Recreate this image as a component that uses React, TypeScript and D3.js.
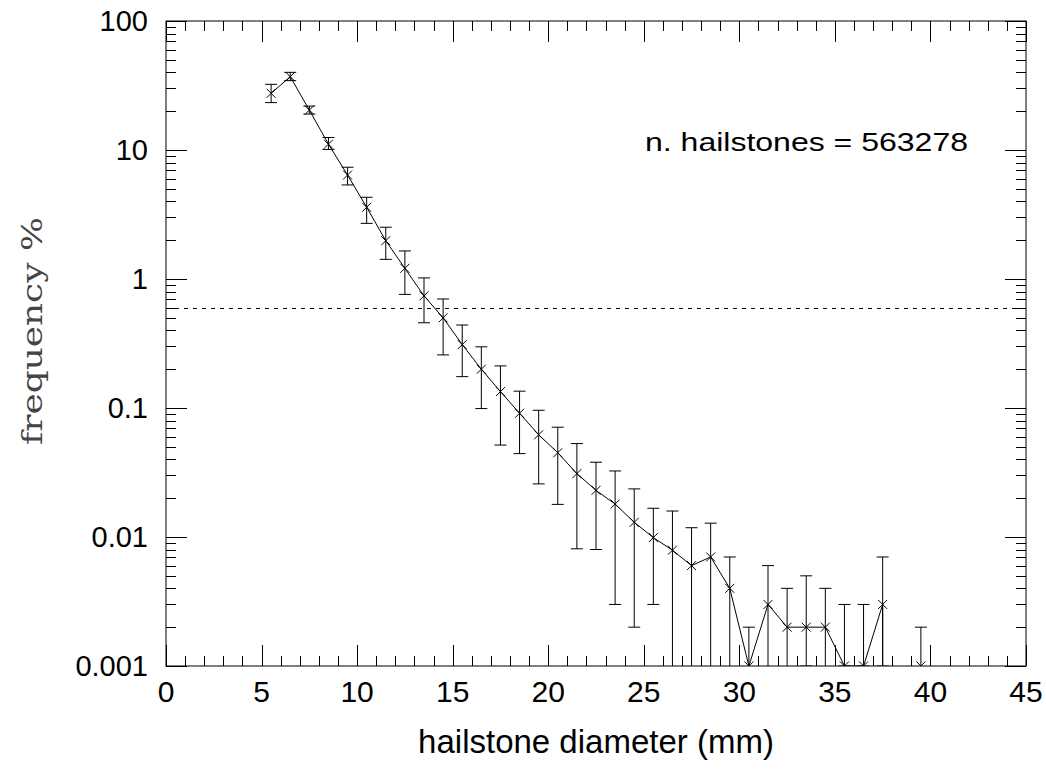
import React from "react";
import * as d3 from "d3";

const diameters = [5.5, 6.5, 7.5, 8.5, 9.5, 10.5, 11.5, 12.5, 13.5, 14.5, 15.5, 16.5, 17.5, 18.5, 19.5, 20.5, 21.5, 22.5, 23.5, 24.5, 25.5, 26.5, 27.5, 28.5, 29.5, 30.5, 31.5, 32.5, 33.5, 34.5, 35.5, 36.5, 37.5, 38.5, 39.5];
const frequency = [27.5, 37, 20.4, 11.1, 6.4, 3.6, 1.98, 1.21, 0.74, 0.5, 0.31, 0.2, 0.134, 0.091, 0.062, 0.045, 0.031, 0.023, 0.018, 0.013, 0.0099, 0.0079, 0.006, 0.007, 0.004, 0.001, 0.003, 0.002, 0.002, 0.002, 0.001, 0.001, 0.003, 0, 0.001];
const upperErr = [32.3, 40, 21.9, 12.5, 7.35, 4.3, 2.52, 1.65, 1.02, 0.70, 0.44, 0.298, 0.212, 0.135, 0.096, 0.071, 0.053, 0.038, 0.0325, 0.0236, 0.0167, 0.0159, 0.0118, 0.0128, 0.007, 0.002, 0.006, 0.004, 0.005, 0.004, 0.003, 0.003, 0.007, 0, 0.002];
const lowerErr = [23.3, 34.5, 19.0, 10.1, 5.36, 2.7, 1.42, 0.76, 0.458, 0.258, 0.175, 0.099, 0.0516, 0.0443, 0.0258, 0.0179, 0.0081, 0.008, 0.003, 0.002, 0.003, 0, 0, 0, 0, 0, 0, 0, 0.001, 0, 0.001, 0.001, 0.001, 0, 0];
const xTickLabels = ["0", "5", "10", "15", "20", "25", "30", "35", "40", "45"];
const yTickLabels = ["100", "10", "1", "0.1", "0.01", "0.001"];
const thresholdValue = 0.6;
const annotation = "n. hailstones = 563278";
const xTitle = "hailstone diameter (mm)";
const yTitle = "frequency %";

export default function App() {
  const W = 1046, H = 769;
  const L = 166, R = 1026, T = 21, B = 666;
  const x = d3.scaleLinear().domain([0, 45]).range([L, R]);
  const y = d3.scaleLog().domain([0.001, 100]).range([B, T]);
  const yv = (v: number) => (v > 0 ? y(v) : B + 100000);

  const xMinor = d3.range(0, 46, 1);
  const yMinor: number[] = [];
  for (let e = -3; e < 2; e++) for (let k = 2; k <= 9; k++) yMinor.push(k * Math.pow(10, e));
  const yMajor = yTickLabels.map(Number);

  const line = d3.line<number>().x((_, i) => x(diameters[i])).y((v) => yv(v));
  const pathD = line(frequency) || "";

  const majLen = 21, minLen = 10, cap = 6, mk = 4.5;
  const font = "'Liberation Sans', Arial, Helvetica, sans-serif";

  return (
    <div style={{ position: "absolute", left: 0, top: 0 }}>
      <svg width={W} height={H} style={{ display: "block", background: "#fff" }}>
        <defs>
          <clipPath id="plotclip">
            <rect x={L} y={T} width={R - L} height={B - T} />
          </clipPath>
        </defs>
        <g stroke="#000" strokeWidth={1} fill="none">
          <rect x={L} y={T} width={R - L} height={B - T} />
          {xMinor.map((t) => {
            const len = t % 5 === 0 ? majLen : minLen;
            const px = Math.round(x(t)) + 0.5;
            return (
              <g key={"xt" + t}>
                <line x1={px} x2={px} y1={B} y2={B - len} />
                <line x1={px} x2={px} y1={T} y2={T + len} />
              </g>
            );
          })}
          {yMinor.map((t) => {
            const py = Math.round(y(t)) + 0.5;
            return (
              <g key={"ym" + t}>
                <line x1={L} x2={L + minLen} y1={py} y2={py} />
                <line x1={R} x2={R - minLen} y1={py} y2={py} />
              </g>
            );
          })}
          {yMajor.map((t) => {
            const py = Math.round(y(t)) + 0.5;
            return (
              <g key={"yM" + t}>
                <line x1={L} x2={L + majLen} y1={py} y2={py} />
                <line x1={R} x2={R - majLen} y1={py} y2={py} />
              </g>
            );
          })}
        </g>
        <line x1={L} x2={R} y1={Math.round(y(thresholdValue)) + 0.5} y2={Math.round(y(thresholdValue)) + 0.5} stroke="#000" strokeWidth={1} strokeDasharray="4,5" />
        <g clipPath="url(#plotclip)" stroke="#000" strokeWidth={1} fill="none">
          <path d={pathD} />
          {diameters.map((d, i) => {
            const px = x(d);
            const f = frequency[i];
            const up = upperErr[i];
            const lo = lowerErr[i];
            if (!(f > 0) && !(up > 0)) return null;
            const yu = yv(up);
            const yl = yv(lo);
            return (
              <g key={"e" + i}>
                <line x1={px} x2={px} y1={yu} y2={yl} />
                <line x1={px - cap} x2={px + cap} y1={yu} y2={yu} />
                {lo > 0 && <line x1={px - cap} x2={px + cap} y1={yl} y2={yl} />}
                {f > 0 && (
                  <g>
                    <line x1={px - mk} x2={px + mk} y1={yv(f) - mk} y2={yv(f) + mk} />
                    <line x1={px - mk} x2={px + mk} y1={yv(f) + mk} y2={yv(f) - mk} />
                  </g>
                )}
              </g>
            );
          })}
        </g>
        {xTickLabels.map((s) => (
          <text key={"xl" + s} x={x(Number(s))} y={702} textAnchor="middle" fontFamily={font} fontSize={30} fill="#000">
            {s}
          </text>
        ))}
        {yTickLabels.map((s) => (
          <text key={"yl" + s} x={148} y={y(Number(s)) + 10} textAnchor="end" fontFamily={font} fontSize={29} fill="#000">
            {s}
          </text>
        ))}
        <text x={596} y={753} textAnchor="middle" fontFamily={font} fontSize={33} fill="#000">
          {xTitle}
        </text>
        <text x={645} y={151} fontFamily={font} fontSize={26} fill="#000" textLength={323} lengthAdjust="spacingAndGlyphs">
          {annotation}
        </text>
        <text transform="translate(42,331) rotate(-90)" textAnchor="middle" fontFamily="'DejaVu Serif', 'Liberation Serif', serif" fontSize={28} fill="#444" textLength={228} lengthAdjust="spacingAndGlyphs">
          {yTitle}
        </text>
      </svg>
    </div>
  );
}
